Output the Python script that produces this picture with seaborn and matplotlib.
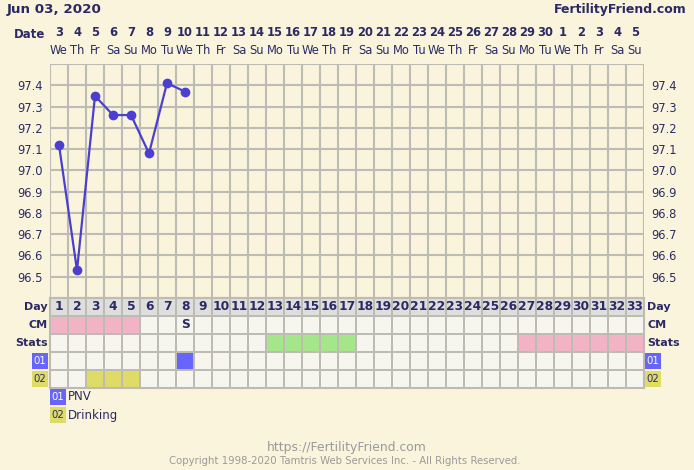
import matplotlib
matplotlib.use("Agg")
import matplotlib.pyplot as plt
import seaborn as sns
import numpy as np
import pandas as pd
from matplotlib.colors import ListedColormap
import matplotlib.transforms as mtransforms

# ---------------- data ----------------
cycle_days = list(range(1, 34))
date_nums = [3,4,5,6,7,8,9,10,11,12,13,14,15,16,17,18,19,20,21,22,23,24,25,26,27,28,29,30,1,2,3,4,5]
weekdays = ["We","Th","Fr","Sa","Su","Mo","Tu"] * 5
weekdays = weekdays[:33]
temp_days = [1, 2, 3, 4, 5, 6, 7, 8]
temps = [97.12, 96.53, 97.35, 97.26, 97.26, 97.08, 97.41, 97.37]
y_ticks = [96.5, 96.6, 96.7, 96.8, 96.9, 97.0, 97.1, 97.2, 97.3, 97.4]

cm_pink_days = [1, 2, 3, 4, 5]
cm_text = {8: "S"}
stats_green_days = [13, 14, 15, 16, 17]
stats_pink_days = [27, 28, 29, 30, 31, 32, 33]
pnv_days = [8]
drinking_days = [3, 4, 5]
row_labels = ["Day", "CM", "Stats", "01", "02"]
legend_items = [("01", "PNV"), ("02", "Drinking")]

# ---------------- style ----------------
BG = "#F9F4DB"
NAVY = "#2B2A66"
GRID = "#BDBCB4"
CELL = "#F6F6EF"
DAYBG = "#DEDEDC"
PINK = "#F3B3C6"
GREEN = "#A6E68A"
BLUE = "#6666FF"
YELLOW = "#DEDB66"
LINE = "#4A3FD0"

sns.set_theme(style="white")
plt.rcParams["font.family"] = ["DejaVu Sans"]

W, H = 694, 470
fig = plt.figure(figsize=(W / 100, H / 100), dpi=100, facecolor=BG)

def fx(px):
    return px / W

def fy(py):
    return 1 - py / H

L, R = 50, 644
T_TOP, T_BOT = 64, 298
TB_BOT = 388

# ---------------- temperature chart ----------------
ax = fig.add_axes([fx(L), fy(T_BOT), fx(R - L), (T_BOT - T_TOP) / H])
ax.set_facecolor(BG)
df = pd.DataFrame({"day": temp_days, "temp": temps})
sns.lineplot(data=df, x="day", y="temp", ax=ax, color=LINE, lw=1.6,
             marker="o", markersize=7, markeredgewidth=0, zorder=5)
ax.set_xlim(0.5, 33.5)
ax.set_ylim(96.4, 97.5)
for xv in np.arange(0.5, 34.0, 1.0):
    ax.axvline(xv, color=GRID, lw=1.5, zorder=1)
for yv in np.arange(96.4, 97.55, 0.1):
    ax.axhline(yv, color=GRID, lw=1.5, zorder=1)
for s in ax.spines.values():
    s.set_visible(False)
ax.set_xlabel("")
ax.set_ylabel("")
ax.set_xticks([])
ax.set_yticks(y_ticks)
ax.set_yticklabels([f"{v:.1f}" for v in y_ticks], color=NAVY, fontsize=8.3)
ax.tick_params(axis="y", length=0, pad=5, labelleft=True, labelright=True)

# date header
trans = mtransforms.blended_transform_factory(ax.transData, fig.transFigure)
for d, n, w in zip(cycle_days, date_nums, weekdays):
    ax.text(d, fy(32), str(n), transform=trans, ha="center", va="center",
            fontsize=8.3, fontweight="bold", color=NAVY)
    ax.text(d, fy(50), w, transform=trans, ha="center", va="center",
            fontsize=8.3, color=NAVY)
fig.text(fx(45), fy(35), "Date", ha="right", va="center", fontsize=8.5,
         fontweight="bold", color=NAVY)
fig.text(fx(7), fy(10), "Jun 03, 2020", ha="left", va="center", fontsize=9.7,
         fontweight="bold", color=NAVY)
fig.text(fx(687), fy(10), "FertilityFriend.com", ha="right", va="center",
         fontsize=9.0, fontweight="bold", color=NAVY)

# ---------------- table ----------------
n = len(cycle_days)
codes = np.zeros((5, n), dtype=int)
codes[0, :] = 1
for d in cm_pink_days:
    codes[1, d - 1] = 2
for d in stats_green_days:
    codes[2, d - 1] = 3
for d in stats_pink_days:
    codes[2, d - 1] = 2
for d in pnv_days:
    codes[3, d - 1] = 4
for d in drinking_days:
    codes[4, d - 1] = 5
annot = np.full((5, n), "", dtype=object)
for i, d in enumerate(cycle_days):
    annot[0, i] = str(d)
for d, t in cm_text.items():
    annot[1, d - 1] = t

tax = fig.add_axes([fx(L), fy(TB_BOT), fx(R - L), (TB_BOT - T_BOT) / H])
cmap = ListedColormap([CELL, DAYBG, PINK, GREEN, BLUE, YELLOW])
sns.heatmap(codes, ax=tax, cmap=cmap, vmin=-0.5, vmax=5.5, cbar=False,
            linewidths=1.1, linecolor=GRID, annot=annot, fmt="",
            annot_kws={"fontsize": 8.8, "fontweight": "bold", "color": NAVY})
tax.set_xticks([])
tax.set_yticks([])
for s in tax.spines.values():
    s.set_visible(True)
    s.set_color(GRID)
    s.set_linewidth(1.5)

row_y = [307, 325, 343, 361, 379]
for lab, yy in zip(row_labels[:3], row_y[:3]):
    fig.text(fx(48), fy(yy), lab, ha="right", va="center", fontsize=8.0,
             fontweight="bold", color=NAVY)
    fig.text(fx(647), fy(yy), lab, ha="left", va="center", fontsize=8.0,
             fontweight="bold", color=NAVY)

def tag(x0, yc, txt, fc, tc):
    fig.patches.append(plt.Rectangle((fx(x0), fy(yc + 8)), fx(16), 16 / H,
                                     transform=fig.transFigure, facecolor=fc,
                                     edgecolor="none"))
    fig.text(fx(x0 + 8), fy(yc), txt, ha="center", va="center", fontsize=7.3,
             color=tc)

tag(32, 361, "01", BLUE, "white")
tag(32, 379, "02", YELLOW, NAVY)
tag(645, 361, "01", BLUE, "white")
tag(645, 379, "02", YELLOW, NAVY)

# legend
for (code, name), yc in zip(legend_items, [397, 415]):
    fc, tc = (BLUE, "white") if code == "01" else (YELLOW, NAVY)
    tag(50, yc, code, fc, tc)
    fig.text(fx(68), fy(yc), name, ha="left", va="center", fontsize=8.5,
             color=NAVY)

# footer
fig.text(fx(347), fy(447), "https://FertilityFriend.com", ha="center",
         va="center", fontsize=8.9, color="#9A9A9A")
fig.text(fx(345), fy(461), "Copyright 1998-2020 Tamtris Web Services Inc. - All Rights Reserved.",
         ha="center", va="center", fontsize=7.3, color="#9A9A9A")

fig.savefig("out.png", dpi=100, facecolor=BG)
